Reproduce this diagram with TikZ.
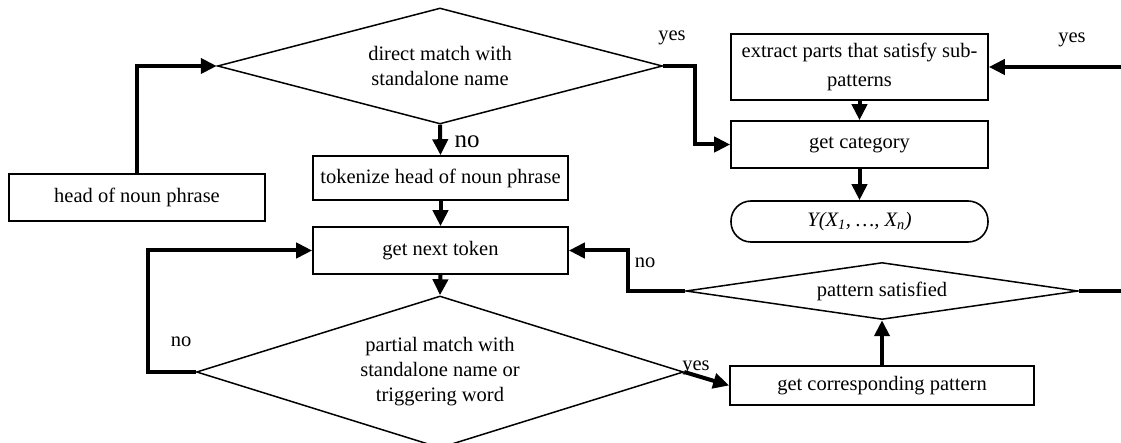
\documentclass[tikz,border=0pt]{standalone}
\usepackage{fontspec}
\setmainfont{Liberation Serif}
\usetikzlibrary{arrows.meta,shapes.geometric}
\begin{document}
\begin{tikzpicture}[x=1pt,y=-1pt,
  every node/.style={font=\fontsize{20.5}{25}\selectfont, inner sep=0pt},
  box/.style={draw, line width=1.6pt, minimum width=255pt, align=center},
  dec/.style={draw, diamond, line width=1.5pt, align=center},
  conn/.style={line width=4pt, -{Triangle[length=16pt,width=15pt]}},
  lbl/.style={inner sep=0pt}
]
\useasboundingbox (0,0) rectangle (1121,443);
\clip (0,0) rectangle (1121,443);

\node[dec, aspect=4, minimum width=445pt, minimum height=116pt] (d1) at (440,66) {direct match with\\standalone name};
\node[box, minimum width=256pt, minimum height=47pt] (head) at (137,197.5) {head of noun phrase};
\node[box, minimum height=44pt] (tok) at (440.5,178) {tokenize head of noun phrase};
\node[box, minimum height=47pt] (next) at (440.5,250.5) {get next token};
\node[dec, aspect=4, minimum width=487pt, minimum height=152pt] (d2) at (440,372) {partial match with\\standalone name or\\triggering word};
\node[box, minimum width=304pt, minimum height=39pt] (pat) at (882,385.5) {get corresponding pattern};
\node[dec, aspect=6, minimum width=392pt, minimum height=57pt] (d3) at (882,291) {pattern satisfied};
\node[box, minimum width=257pt, minimum height=66pt, font=\fontsize{20.5}{29}\selectfont] (ext) at (859.5,67) {extract parts that satisfy sub-\\patterns};
\node[box, minimum width=257pt, minimum height=47pt] (cat) at (859.5,144.5) {get category};
\node[draw, line width=1.6pt, rounded corners=20pt, minimum width=257pt, minimum height=41pt] (ell) at (859.5,221.5) {\itshape Y(X\textsubscript{1}, …, X\textsubscript{n})};

\node[lbl] (yes1) at (672,38) {yes};
\node[lbl] (yes2) at (1072,40) {yes};
\node[lbl] (yes3) at (696,368) {yes};
\node[lbl, font=\fontsize{25}{30}\selectfont] (no1) at (467,142) {no};
\node[lbl] (no2) at (181,342) {no};
\node[lbl] (no3) at (645,263) {no};

\draw[conn] (head.north) |- (d1.west);
\draw[conn] (d1.south) -- (tok.north);
\draw[conn] (d1.east) -- ++(32,0) |- (cat.west);
\draw[conn] (tok.south) -- (next.north);
\draw[conn] (next.south) -- (d2.north);
\draw[conn] (d2.west) -- ++(-48,0) |- (next.west);
\draw[conn] (d2.east) -- (pat.west);
\draw[conn] (pat.north) -- (d3.south);
\draw[conn] (d3.west) -- ++(-57,0) |- (next.east);
\draw[conn] (d3.east) -- ++(70,0) |- (ext.east);
\draw[conn] (ext.south) -- (cat.north);
\draw[conn] (cat.south) -- (ell.north);
\end{tikzpicture}
\end{document}
